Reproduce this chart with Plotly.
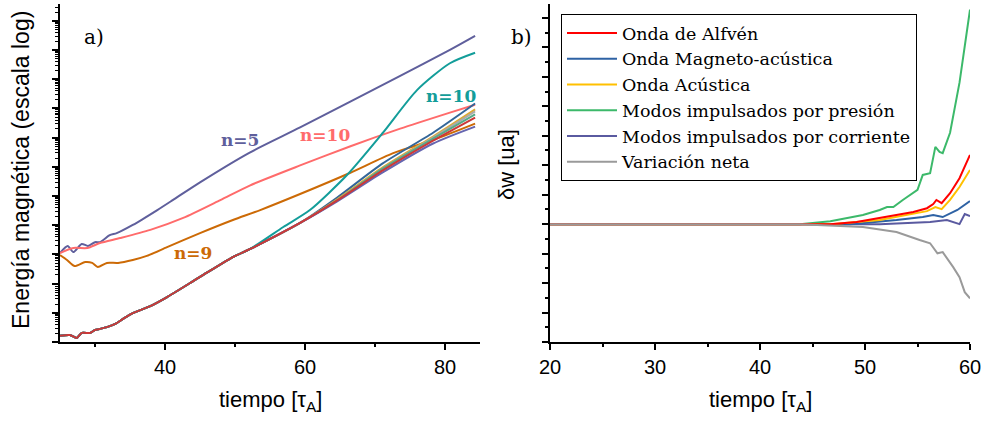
import numpy as np
import plotly.graph_objects as go

# ---------------- Panel a) data (log10 of magnetic energy) ----------------
t_n5 = [25, 26.1, 26.9, 28.1, 29.0, 30.0, 30.7, 32.1, 33.1, 35.4, 38.9, 41.1, 45.0, 52.1, 59.3, 66.4, 73.6, 80.7, 84.3]
logE_n5 = [3.05, 3.29, 3.08, 3.36, 3.29, 3.42, 3.42, 3.66, 3.73, 4.01, 4.52, 4.86, 5.47, 6.49, 7.35, 8.23, 9.12, 10.01, 10.49]

t_n10s = [25, 26.9, 28.9, 30.7, 33.6, 37.9, 42.6, 47.9, 52.1, 59.3, 66.4, 73.6, 80.7, 84.3]
logE_n10s = [3.05, 3.22, 3.22, 3.39, 3.56, 3.84, 4.25, 4.86, 5.36, 6.05, 6.70, 7.31, 7.86, 8.13]

t_n9 = [25, 26.0, 27.1, 28.6, 29.6, 30.4, 31.7, 33.3, 35.4, 37.4, 40.3, 45.0, 49.7, 53.6, 59.3, 66.4, 72.6, 78.3, 84.3]
logE_n9 = [2.98, 2.81, 2.60, 2.74, 2.71, 2.57, 2.71, 2.71, 2.81, 2.95, 3.25, 3.73, 4.18, 4.52, 5.07, 5.79, 6.47, 6.92, 7.48]

t_bundle = [25, 26.4, 27.4, 28.1, 29.3, 30.0, 30.7, 31.7, 32.9, 34.0, 35.4, 37.9, 40.3, 45.0, 49.7, 52.1, 59.3, 64.6, 71.1, 78.3, 84.3]
logE_bundle_early = [0.21, 0.24, 0.14, 0.31, 0.31, 0.41, 0.45, 0.51, 0.62, 0.79, 0.99, 1.23, 1.54, 2.23, 2.91, 3.18, 4.08]
logE_red_late = [4.85, 5.88, 6.90, 7.69]
logE_blue_late = [4.95, 6.12, 7.17, 8.17]
logE_gold_late = [4.89, 5.98, 7.04, 7.97]
logE_gray_late = [4.85, 5.94, 7.00, 7.90]
logE_green_late = [4.85, 5.94, 6.97, 7.80]
logE_purple_late = [4.82, 5.81, 6.80, 7.38]

t_n10t = [25, 26.4, 27.4, 28.1, 29.3, 30.0, 30.7, 31.7, 32.9, 34.0, 35.4, 37.9, 40.3, 45.0, 49.7, 52.1, 56.9, 60.7, 66.0, 71.1, 76.0, 80.7, 84.3]
logE_n10t = [0.21, 0.24, 0.14, 0.31, 0.31, 0.41, 0.45, 0.51, 0.62, 0.79, 0.99, 1.23, 1.54, 2.23, 2.91, 3.18, 3.94, 4.52, 5.72, 7.16, 8.63, 9.55, 9.91]

# ---------------- Panel b) data (delta W, arbitrary units) ----------------
t_green = [20, 43.8, 46.7, 49.8, 51.4, 52.1, 52.7, 53.6, 55.0, 55.5, 56.2, 56.7, 57.1, 57.4, 58.1, 59.0, 60.0]
dw_green = [0, 0, 0.10, 0.31, 0.48, 0.58, 0.58, 0.82, 1.16, 1.67, 1.73, 2.62, 2.45, 2.41, 3.10, 4.80, 7.28]

t_red = [20, 46.7, 49.2, 51.4, 53.0, 54.6, 55.9, 56.5, 56.8, 57.3, 58.1, 59.0, 60.0]
dw_red = [0, 0, 0.07, 0.20, 0.31, 0.41, 0.54, 0.68, 0.82, 0.71, 1.05, 1.56, 2.35]

t_yellow = [20, 46.7, 51.4, 54.6, 55.9, 56.7, 57.3, 58.1, 59.0, 60.0]
dw_yellow = [0, 0, 0.14, 0.34, 0.44, 0.58, 0.51, 0.82, 1.26, 1.84]

t_blue = [20, 48.6, 53.0, 55.5, 56.5, 57.4, 58.8, 60.0]
dw_blue = [0, 0, 0.14, 0.24, 0.31, 0.24, 0.48, 0.78]

t_purple = [20, 51.4, 56.2, 57.8, 59.0, 59.5, 60.0]
dw_purple = [0, 0, 0.07, 0.14, 0.0, 0.34, 0.27]

t_gray = [20, 43.8, 49.8, 53.0, 55.2, 56.2, 56.9, 57.4, 58.4, 59.0, 59.5, 60.0]
dw_gray = [0, 0, -0.10, -0.27, -0.54, -0.65, -0.99, -0.95, -1.46, -1.80, -2.31, -2.52]

legend_names = ["Onda de Alfvén", "Onda Magneto-acústica", "Onda Acústica",
                "Modos impulsados por presión", "Modos impulsados por corriente", "Variación neta"]

# ---------------- Figure ----------------
W, H = 984, 422
def px_x(p):
    return p / W
def px_y(p):
    return 1 - p / H

fig = go.Figure()

def energy(v):
    return np.power(10.0, np.array(v, dtype=float))

LW = 2
left_series = [
    (t_n5, logE_n5, "#5f5f9c"),
    (t_n10s, logE_n10s, "#ff6b6b"),
    (t_n9, logE_n9, "#cc6a06"),
    (t_bundle, logE_bundle_early + logE_blue_late, "#336699"),
    (t_bundle, logE_bundle_early + logE_gold_late, "#ddaa33"),
    (t_bundle, logE_bundle_early + logE_gray_late, "#aaaaaa"),
    (t_bundle, logE_bundle_early + logE_green_late, "#55aa88"),
    (t_bundle, logE_bundle_early + logE_purple_late, "#6666b0"),
    (t_n10t, logE_n10t, "#139d9a"),
    (t_bundle, logE_bundle_early + logE_red_late, "#cc3838"),
]
for tx, ly, col in left_series:
    fig.add_trace(go.Scatter(x=tx, y=energy(ly), mode="lines",
                             line=dict(color=col, width=LW, shape="spline", smoothing=0.7),
                             xaxis="x", yaxis="y", showlegend=False, hoverinfo="skip"))

right_series = [
    (t_green, dw_green, "#3cb96a", legend_names[3]),
    (t_purple, dw_purple, "#5a5aa0", legend_names[4]),
    (t_blue, dw_blue, "#2e62a4", legend_names[1]),
    (t_yellow, dw_yellow, "#ffc000", legend_names[2]),
    (t_red, dw_red, "#ff0000", legend_names[0]),
    (t_gray, dw_gray, "#9a9a9a", legend_names[5]),
]
rank = {n: i for i, n in enumerate(legend_names)}
for tx, dy, col, name in right_series:
    fig.add_trace(go.Scatter(x=tx, y=dy, mode="lines", line=dict(color=col, width=LW),
                             name=name, legendrank=rank[name] + 1,
                             xaxis="x2", yaxis="y2", hoverinfo="skip"))

axis_common = dict(showline=True, linecolor="black", linewidth=1.5, ticks="outside",
                   tickcolor="black", tickwidth=1.5, showgrid=False, zeroline=False,
                   mirror=False, automargin=False)
tickfont = dict(family="Liberation Sans, Arial, sans-serif", size=20, color="black")

fig.update_layout(
    width=W, height=H,
    margin=dict(l=0, r=0, t=0, b=0, autoexpand=False),
    paper_bgcolor="white", plot_bgcolor="white",
    xaxis=dict(domain=[px_x(60), px_x(480)], range=[25, 85], tickmode="linear", tick0=40, dtick=20,
               ticklen=6, tickfont=tickfont, anchor="y",
               minor=dict(ticks="outside", tick0=30, dtick=20, ticklen=3, tickwidth=1.5, tickcolor="black"),
               **axis_common),
    yaxis=dict(domain=[px_y(342), px_y(4)], type="log", range=[0, 11.58], tickmode="linear", tick0=0, dtick=1,
               ticklen=6, showticklabels=False, anchor="x",
               minor=dict(ticks="outside", dtick="D1", ticklen=3, tickwidth=1, tickcolor="black"),
               **axis_common),
    xaxis2=dict(domain=[px_x(550), px_x(970)], range=[20, 60], tickmode="linear", tick0=20, dtick=10,
                ticklen=6, tickfont=tickfont, anchor="y2",
                minor=dict(ticks="outside", tick0=25, dtick=10, ticklen=3, tickwidth=1.5, tickcolor="black"),
                **axis_common),
    yaxis2=dict(domain=[px_y(342), px_y(4)], range=[-4, 7.47], tickmode="linear", tick0=0, dtick=1,
                ticklen=6, showticklabels=False, anchor="x2",
                minor=dict(ticks="outside", dtick=0.5, ticklen=3, tickwidth=1.5, tickcolor="black"),
                **axis_common),
    legend=dict(x=px_x(561), y=px_y(14), xanchor="left", yanchor="top",
                bgcolor="white", bordercolor="black", borderwidth=1,
                font=dict(family="DejaVu Serif, serif", size=17.5, color="black"),
                itemwidth=50, tracegroupgap=0, traceorder="normal"),
)

annotations = [
    dict(x=px_x(21), y=px_y(170), text="Energía magnética (escala log)", textangle=-90,
         font=dict(family="Liberation Sans, Arial, sans-serif", size=23, color="black")),
    dict(x=px_x(270), y=px_y(401), text="tiempo [τ<sub>A</sub>]",
         font=dict(family="Liberation Sans, Arial, sans-serif", size=22, color="black")),
    dict(x=px_x(760), y=px_y(401), text="tiempo [τ<sub>A</sub>]",
         font=dict(family="Liberation Sans, Arial, sans-serif", size=22, color="black")),
    dict(x=px_x(506), y=px_y(165), text="δw [ua]", textangle=-90,
         font=dict(family="Liberation Sans, Arial, sans-serif", size=22, color="black")),
    dict(x=px_x(94), y=px_y(37), text="a)", font=dict(family="DejaVu Serif, serif", size=20, color="black")),
    dict(x=px_x(521), y=px_y(37), text="b)", font=dict(family="DejaVu Serif, serif", size=20, color="black")),
    dict(x=px_x(240), y=px_y(140), text="<b>n=5</b>", font=dict(family="DejaVu Serif, serif", size=17, color="#5f5f9c")),
    dict(x=px_x(325), y=px_y(135), text="<b>n=10</b>", font=dict(family="DejaVu Serif, serif", size=17, color="#ff6b6b")),
    dict(x=px_x(193), y=px_y(253), text="<b>n=9</b>", font=dict(family="DejaVu Serif, serif", size=17, color="#cc6a06")),
    dict(x=px_x(451), y=px_y(96), text="<b>n=10</b>", font=dict(family="DejaVu Serif, serif", size=17, color="#139d9a")),
]
for a in annotations:
    a.update(xref="paper", yref="paper", showarrow=False, xanchor="center", yanchor="middle")
fig.update_layout(annotations=annotations)

fig.write_html("out.html")
